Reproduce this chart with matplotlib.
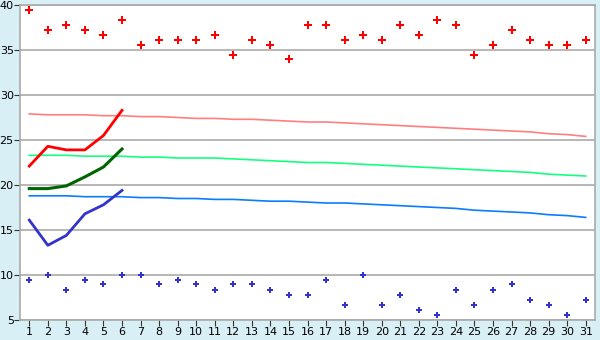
import matplotlib
matplotlib.use("Agg")
import matplotlib.pyplot as plt

days = list(range(1, 32))

max_points = [39.4, 37.2, 37.8, 37.2, 36.7, 38.3, 35.6, 36.1, 36.1, 36.1,
              36.7, 34.4, 36.1, 35.6, 34.0, 37.8, 37.8, 36.1, 36.7, 36.1,
              37.8, 36.7, 38.3, 37.8, 34.4, 35.6, 37.2, 36.1, 35.6, 35.6, 36.1]
min_points = [9.4, 10.0, 8.3, 9.4, 9.0, 10.0, 10.0, 9.0, 9.4, 9.0,
              8.3, 9.0, 9.0, 8.3, 7.8, 7.8, 9.4, 6.7, 10.0, 6.7,
              7.8, 6.1, 5.6, 8.3, 6.7, 8.3, 9.0, 7.2, 6.7, 5.6, 7.2]

norm_max = [27.9, 27.8, 27.8, 27.8, 27.7, 27.7, 27.6, 27.6, 27.5, 27.4,
            27.4, 27.3, 27.3, 27.2, 27.1, 27.0, 27.0, 26.9, 26.8, 26.7,
            26.6, 26.5, 26.4, 26.3, 26.2, 26.1, 26.0, 25.9, 25.7, 25.6, 25.4]
norm_mean = [23.3, 23.3, 23.3, 23.2, 23.2, 23.2, 23.1, 23.1, 23.0, 23.0,
             23.0, 22.9, 22.8, 22.7, 22.6, 22.5, 22.5, 22.4, 22.3, 22.2,
             22.1, 22.0, 21.9, 21.8, 21.7, 21.6, 21.5, 21.4, 21.2, 21.1, 21.0]
norm_min = [18.8, 18.8, 18.8, 18.7, 18.7, 18.7, 18.6, 18.6, 18.5, 18.5,
            18.4, 18.4, 18.3, 18.2, 18.2, 18.1, 18.0, 18.0, 17.9, 17.8,
            17.7, 17.6, 17.5, 17.4, 17.2, 17.1, 17.0, 16.9, 16.7, 16.6, 16.4]

obs_days = [1, 2, 3, 4, 5, 6]
obs_max = [22.1, 24.3, 23.9, 23.9, 25.5, 28.3]
obs_mean = [19.6, 19.6, 19.9, 20.9, 22.0, 24.0]
obs_min = [16.1, 13.3, 14.4, 16.8, 17.8, 19.4]

y_ticks = [5, 10, 15, 20, 25, 30, 35, 40]

fig = plt.figure(figsize=(6, 3.4), dpi=100, facecolor="#d9eff6")
ax = fig.add_axes([20 / 600, 20 / 340, 575 / 600, 315 / 340])
ax.set_facecolor("white")

ax.set_xlim(0.5, 31.5)
ax.set_ylim(5, 40)
ax.set_yticks(y_ticks)
ax.set_xticks(days)
ax.set_xticklabels([str(d) for d in days])
ax.grid(axis="y", color="#aaaaaa", linewidth=1.2)
ax.set_axisbelow(True)
for s in ax.spines.values():
    s.set_color("#aaaaaa")
    s.set_linewidth(1.2)
ax.tick_params(axis="both", labelsize=8, length=4, color="#333333", pad=1)
ax.tick_params(axis="y", pad=0.5)

ax.plot(days, norm_max, color="#ff7f7f", linewidth=1.2)
ax.plot(days, norm_mean, color="#14ff80", linewidth=1.2)
ax.plot(days, norm_min, color="#0a7cff", linewidth=1.2)

ax.plot(obs_days, obs_max, color="#ff0000", linewidth=2)
ax.plot(obs_days, obs_mean, color="#006400", linewidth=2.2)
ax.plot(obs_days, obs_min, color="#3333cc", linewidth=2)

ax.plot(days, max_points, linestyle="none", marker="P", markersize=5.5,
        color="#ff0000", markeredgewidth=0)
ax.plot(days, min_points, linestyle="none", marker="P", markersize=5,
        color="#3333cc", markeredgewidth=0)

fig.savefig("out.png", dpi=100, facecolor=fig.get_facecolor())
